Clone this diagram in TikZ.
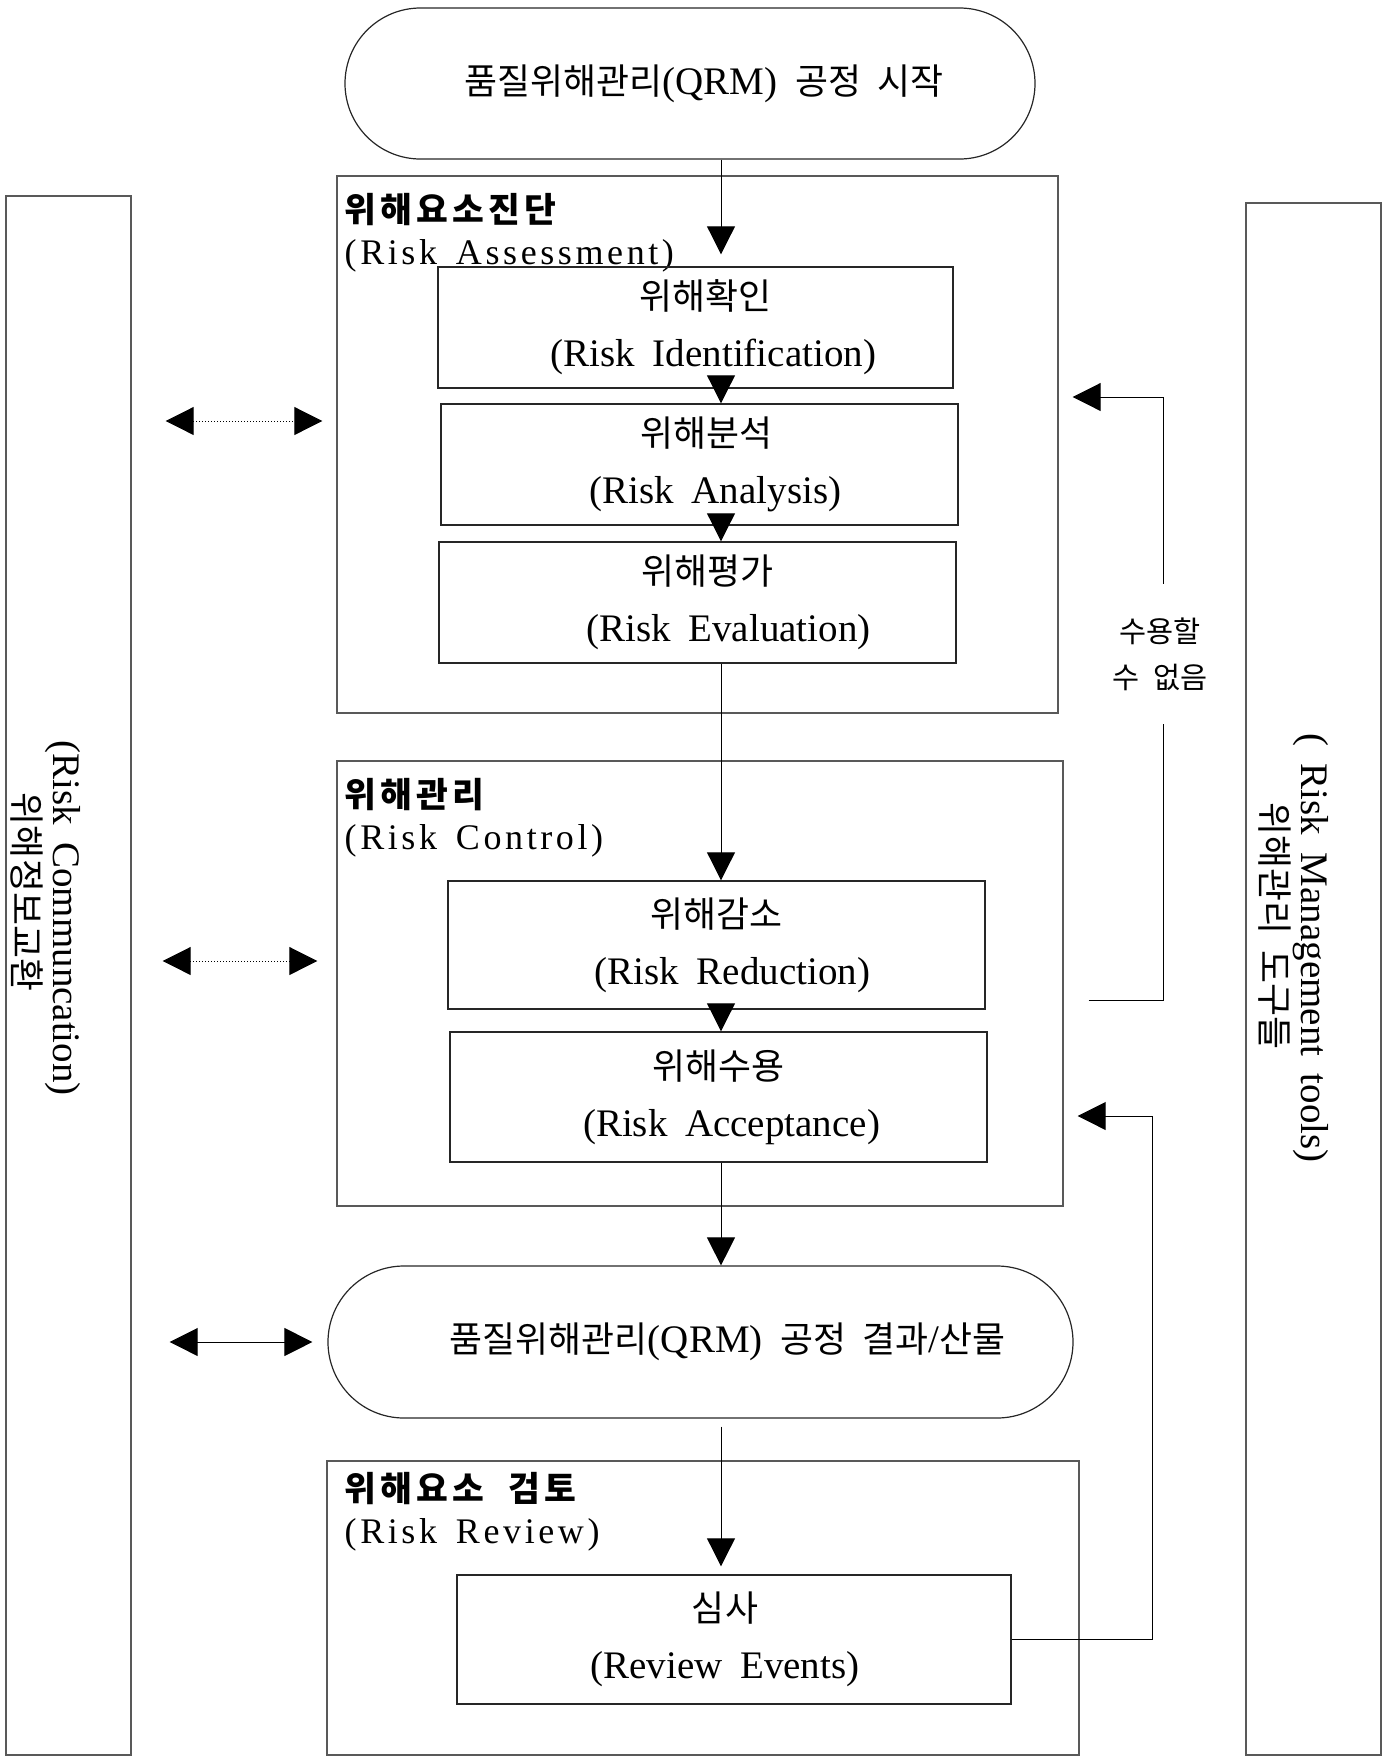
\documentclass[tikz,border=0pt]{standalone}
\usepackage{fontspec}
\setmainfont{Liberation Serif}[WordSpace=1.8]
\newfontfamily\kr{Noto Sans CJK KR}[Scale=0.92,WordSpace=2]
\newfontfamily\krhead{Noto Sans CJK KR}[Scale=0.96,LetterSpace=12,WordSpace=2]
\newfontfamily\enhead{Liberation Serif}[LetterSpace=10,WordSpace=1.5]
\newcommand\nudge[1]{\hspace*{#1pt}}
\usetikzlibrary{arrows.meta,shapes.misc,positioning}

\tikzset{
  flow/.style={-{Triangle[length=14pt,width=14pt]}, line width=0.5pt},
  comm/.style={{Triangle[length=14pt,width=14pt]}-{Triangle[length=14pt,width=14pt]}, line width=0.5pt},
  stepbox/.style={draw=black!85, line width=0.7pt, align=center, inner sep=0pt,
    font=\fontsize{19.5}{28.5}\selectfont},
  stage/.style={draw=black!65, line width=0.7pt, inner sep=0pt},
  terminal/.style={draw=black!85, line width=0.6pt, rounded rectangle,
    rounded rectangle arc length=180, inner sep=0pt, font=\fontsize{19.5}{24}\selectfont},
  stagehead/.style={anchor=north west, inner sep=0pt, align=left,
    font=\fontsize{18}{21}\selectfont\enhead},
  sidebar/.style={draw=black!65, line width=0.7pt, inner sep=0pt},
  sidetext/.style={rotate=-90, align=center, inner sep=0pt, font=\fontsize{19.5}{18}\selectfont},
  notice/.style={fill=white, align=center, inner sep=0pt, minimum width=48pt,
    minimum height=70pt, font=\fontsize{16}{23}\selectfont\kr},
}

\begin{document}
\begin{tikzpicture}[x=0.5pt, y=-0.5pt]
\useasboundingbox (0,0) rectangle (1396,1757);

% side bars
\node[sidebar, minimum width=62.5pt, minimum height=779.5pt] (lbar) at (68.5,975.5) {};
\node[sidebar, minimum width=67.5pt, minimum height=776pt] (rbar) at (1313.5,979) {};
\node[sidetext] (commtext) at (46,918) {(Risk Communcation)\\\nudge{-26}{\kr 위해정보교환}};
\node[sidetext] (tooltext) at (1294,948) {( Risk Management tools)\\\nudge{-22}{\kr 위해관리 도구들}};

% start / end
\node[terminal, minimum width=345pt, minimum height=75.5pt] (start) at (690,83.5)
  {\nudge{14}{\kr 품질위해관리}(QRM) {\kr 공정 시작}};
\node[terminal, minimum width=372.5pt, minimum height=76pt] (out) at (700.5,1342)
  {\nudge{27}{\kr 품질위해관리}(QRM) {\kr 공정 결과}/{\kr 산물}};

% risk assessment
\node[stage, minimum width=360.5pt, minimum height=268.5pt] (assess) at (697.5,444.5) {};
\node[stagehead] (assesshead) at ([xshift=4pt,yshift=-9pt]assess.north west)
  {{\krhead\bfseries 위해요소진단}\\(Risk Assessment)};
\node[stepbox, minimum width=257.5pt, minimum height=60.5pt] (ident) at (695.5,327.5)
  {\nudge{10}{\kr 위해확인}\\\nudge{18}(Risk Identification)};
\node[stepbox, minimum width=258.5pt, minimum height=60.5pt] (analysis) at (699.5,464.5)
  {\nudge{7}{\kr 위해분석}\\\nudge{16}(Risk Analysis)};
\node[stepbox, minimum width=258.5pt, minimum height=60.5pt] (evaluation) at (697.5,602.5)
  {\nudge{10}{\kr 위해평가}\\\nudge{31}(Risk Evaluation)};

% risk control
\node[stage, minimum width=363pt, minimum height=222.5pt] (control) at (700,983.5) {};
\node[stagehead] (controlhead) at ([xshift=4pt,yshift=-9pt]control.north west)
  {{\krhead\bfseries 위해관리}\\(Risk Control)};
\node[stepbox, minimum width=268.5pt, minimum height=64pt] (reduction) at (716.5,945)
  {{\kr 위해감소}\\\nudge{16}(Risk Reduction)};
\node[stepbox, minimum width=268.5pt, minimum height=65pt] (acceptance) at (718.5,1097)
  {{\kr 위해수용}\\\nudge{13}(Risk Acceptance)};

% risk review
\node[stage, minimum width=376pt, minimum height=147pt] (review) at (703,1608) {};
\node[stagehead] (reviewhead) at ([xshift=9pt,yshift=-6pt]review.north west)
  {{\krhead\bfseries 위해요소 검토}\\(Risk Review)};
\node[stepbox, minimum width=277pt, minimum height=64.5pt] (events) at (734,1639.5)
  {\nudge{-9}{\kr 심사}\\\nudge{-9}(Review Events)};

% main flow
\coordinate (spine) at (721,0);
\draw[flow, shorten >=6pt] (start.south -| spine) -- (ident.north -| spine);
\draw[flow] (ident.south -| spine) -- (analysis.north -| spine);
\draw[flow] (analysis.south -| spine) -- (evaluation.north -| spine);
\draw[flow] (evaluation.south -| spine) -- (reduction.north -| spine);
\draw[flow] (reduction.south -| spine) -- (acceptance.north -| spine);
\draw[flow] (acceptance.south -| spine) -- (out.north -| spine);
\draw[flow, shorten <=4pt, shorten >=4pt] (out.south -| spine) -- (events.north -| spine);

% communication
\coordinate (commA) at (0,421);
\coordinate (commB) at (0,961);
\draw[comm, densely dotted, shorten <=17pt, shorten >=7pt] (lbar.east |- commA) -- (assess.west |- commA);
\draw[comm, densely dotted, shorten <=15.5pt, shorten >=9.5pt] (lbar.east |- commB) -- (control.west |- commB);
\draw[comm, shorten <=19pt, shorten >=7.5pt] (lbar.east |- out.west) -- (out.west);

% feedback loops
\coordinate (backA) at (1163,1000);
\coordinate (backB) at (1163,397);
\coordinate (backC) at (1152,1116);
\draw[flow, shorten <=12.5pt, shorten >=7pt] (control.east |- backA) -- (backA) -- (backB) -- (assess.east |- backB);
\node[notice] (notaccepted) at (1160,654) {수용할\\수 없음};
\draw[flow, shorten >=7pt] (events.east) -| (backC) -- (control.east |- backC);

\end{tikzpicture}
\end{document}
